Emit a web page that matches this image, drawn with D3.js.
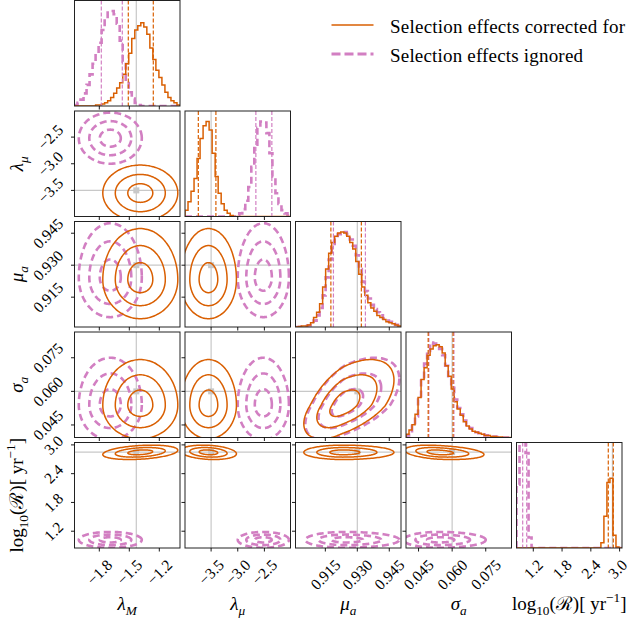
<!DOCTYPE html>
<html>
<head>
<meta charset="utf-8">
<script src="https://cdn.jsdelivr.net/npm/d3@7"></script>
<style>
body { margin: 0; background: #fff; }
text { font-family: "Liberation Serif", "DejaVu Serif", serif; fill: #000; }
</style>
</head>
<body>
<div id="corner"></div>
<script>
// axis labels, as [text, kind] pieces
const paramLabels = [
    [["λ", "i"], ["M", "subi"]],
    [["λ", "i"], ["μ", "subi"]],
    [["μ", "i"], ["a", "subi"]],
    [["σ", "i"], ["a", "subi"]],
    [["log", "r"], ["10", "sub"], ["(ℛ)[ yr", "r"], ["−1", "sup"], ["]", "r"]]
];
const ranges = [[-2.048, -0.993], [-3.99, -2.01], [0.9010, 0.9505], [0.0394, 0.0865], [0.85, 3.05]];
const ticks = [[-1.8, -1.5, -1.2], [-3.5, -3.0, -2.5], [0.915, 0.930, 0.945], [0.045, 0.060, 0.075], [1.2, 1.8, 2.4, 3.0]];
const tickLabels = [
    ["−1.8", "−1.5", "−1.2"],
    ["−3.5", "−3.0", "−2.5"],
    ["0.915", "0.930", "0.945"],
    ["0.045", "0.060", "0.075"],
    ["1.2", "1.8", "2.4", "3.0"]
];
const truths = [-1.43, -3.50, 0.930, 0.060, 2.85];
const seriesNames = ["Selection effects corrected for", "Selection effects ignored"];

// 1d histograms, 35 bins over each range, height as fraction of the panel
const histCorrected = [
    [0, 0, 0, 0, 0, 0, 0, 0.01, 0.01, 0.02, 0.03, 0.05, 0.08, 0.12, 0.17, 0.22, 0.30, 0.40, 0.50, 0.64, 0.72, 0.76, 0.79, 0.75, 0.68, 0.55, 0.44, 0.34, 0.27, 0.20, 0.13, 0.08, 0.05, 0.03, 0.01],
    [0.06, 0.14, 0.24, 0.36, 0.55, 0.74, 0.86, 0.90, 0.82, 0.60, 0.38, 0.22, 0.12, 0.06, 0.03, 0.01, 0, 0, 0, 0, 0, 0, 0, 0, 0, 0, 0, 0, 0, 0, 0, 0, 0, 0, 0],
    [0, 0.005, 0.01, 0.01, 0.02, 0.04, 0.09, 0.14, 0.22, 0.38, 0.55, 0.70, 0.80, 0.86, 0.89, 0.90, 0.89, 0.86, 0.80, 0.74, 0.62, 0.50, 0.38, 0.30, 0.23, 0.18, 0.15, 0.11, 0.09, 0.07, 0.05, 0.04, 0.03, 0.02, 0.01],
    [0.03, 0.07, 0.12, 0.22, 0.38, 0.55, 0.66, 0.78, 0.84, 0.87, 0.88, 0.86, 0.80, 0.68, 0.58, 0.46, 0.34, 0.27, 0.21, 0.15, 0.11, 0.08, 0.06, 0.05, 0.04, 0.03, 0.02, 0.02, 0.01, 0.01, 0.005, 0.005, 0, 0, 0],
    [0, 0, 0, 0, 0, 0, 0, 0, 0, 0, 0, 0, 0, 0, 0, 0, 0, 0, 0, 0, 0, 0, 0, 0, 0, 0, 0, 0, 0.05, 0.30, 0.62, 0.66, 0.12, 0.01, 0]
];
const histIgnored = [
    [0.01, 0.03, 0.06, 0.12, 0.20, 0.30, 0.40, 0.50, 0.60, 0.72, 0.83, 0.90, 0.90, 0.87, 0.78, 0.62, 0.42, 0.25, 0.13, 0.07, 0.03, 0.01, 0, 0, 0, 0, 0, 0, 0, 0, 0, 0, 0, 0, 0],
    [0, 0, 0, 0, 0, 0, 0, 0, 0, 0, 0, 0, 0, 0, 0, 0, 0, 0.01, 0.03, 0.07, 0.15, 0.28, 0.47, 0.68, 0.84, 0.90, 0.89, 0.79, 0.60, 0.38, 0.22, 0.12, 0.06, 0.03, 0.01],
    [0, 0, 0.005, 0.01, 0.015, 0.03, 0.06, 0.11, 0.18, 0.30, 0.47, 0.64, 0.76, 0.84, 0.88, 0.90, 0.90, 0.88, 0.83, 0.77, 0.68, 0.55, 0.43, 0.34, 0.27, 0.21, 0.17, 0.14, 0.11, 0.08, 0.06, 0.05, 0.03, 0.02, 0.01],
    [0.02, 0.06, 0.11, 0.20, 0.36, 0.54, 0.70, 0.82, 0.90, 0.89, 0.86, 0.84, 0.78, 0.68, 0.58, 0.47, 0.36, 0.28, 0.22, 0.16, 0.12, 0.09, 0.07, 0.05, 0.04, 0.03, 0.02, 0.02, 0.01, 0.01, 0.005, 0.005, 0, 0, 0],
    [0.6, 1.2, 1.2, 0.9, 0.1, 0, 0, 0, 0, 0, 0, 0, 0, 0, 0, 0, 0, 0, 0, 0, 0, 0, 0, 0, 0, 0, 0, 0, 0, 0, 0, 0, 0, 0, 0]
];

// 16th / 84th percentiles (dashed lines on the diagonal)
const q16Corrected = [-1.51, -3.74, 0.9176, 0.0493, 2.764];
const q84Corrected = [-1.26, -3.41, 0.9319, 0.0604, 2.869];
const q16Ignored = [-1.78, -2.66, 0.9188, 0.0496, 0.979];
const q84Ignored = [-1.57, -2.36, 0.9338, 0.0608, 1.063];

// 2d contours: centre, lower/upper spread, correlations [i, j, rho]
const centerCorrected = [-1.39, -3.55, 0.9232, 0.0538, 2.845];
const sdLoCorrected = [0.125, 0.175, 0.0061, 0.0050, 0.05];
const sdHiCorrected = [0.125, 0.175, 0.0080, 0.0068, 0.05];
const corrCorrected = [[0, 4, 0.3], [1, 4, -0.2], [2, 3, 0.55], [3, 4, -0.3]];
const centerIgnored = [-1.69, -2.52, 0.9242, 0.0540, 1.02];
const sdLoIgnored = [0.105, 0.16, 0.0062, 0.0052, 0.055];
const sdHiIgnored = [0.105, 0.16, 0.0085, 0.0070, 0.055];
const corrIgnored = [[2, 3, 0.55]];
const sigmaLevels = [1, 2, 3];

const orange = "#d95f02", pink = "#d27fc2", grey = "#c8c8c8";
const W = 630, H = 625;
const left0 = 74.5, top0 = 0.5, size = 105.5, gap = 5;
const n = paramLabels.length;

const series = [
    { color: pink, width: 2.6, dash: "7,4", hist: histIgnored, q16: q16Ignored, q84: q84Ignored,
      center: centerIgnored, sdLo: sdLoIgnored, sdHi: sdHiIgnored, corr: corrIgnored },
    { color: orange, width: 1.5, dash: null, hist: histCorrected, q16: q16Corrected, q84: q84Corrected,
      center: centerCorrected, sdLo: sdLoCorrected, sdHi: sdHiCorrected, corr: corrCorrected }
];

const svg = d3.select('#corner').append('svg').attr('width', W).attr('height', H);
const defs = svg.append('defs');
defs.append('clipPath').attr('id', 'panelclip')
    .append('rect').attr('width', size).attr('height', size);

const xs = ranges.map(r => d3.scaleLinear().domain(r).range([0, size]));
const ys = ranges.map(r => d3.scaleLinear().domain(r).range([size, 0]));
const hy = d3.scaleLinear().domain([0, 1]).range([size, 0]);

const mathLabel = (sel, parts, fs) => {
    let shift = 0;
    parts.forEach(([t, kind]) => {
        let target = 0, size2 = fs;
        if (kind.startsWith('sub')) { target = 0.28 * fs; size2 = fs * 0.7; }
        if (kind === 'sup') { target = -0.42 * fs; size2 = fs * 0.7; }
        const ts = sel.append('tspan').text(t).attr('font-size', size2).attr('dy', target - shift);
        if (kind === 'i' || kind === 'subi') ts.attr('font-style', 'italic');
        shift = target;
    });
};

const rho = (list, i, j) => {
    const hit = list.find(c => (c[0] === i && c[1] === j) || (c[0] === j && c[1] === i));
    return hit ? hit[2] : 0;
};

const contourPath = (s, xi, yi, r) => {
    const p = rho(s.corr, xi, yi);
    const pts = d3.range(0, 160).map(k => {
        const t = k / 160 * 2 * Math.PI;
        const u = r * Math.cos(t);
        const v = r * (p * Math.cos(t) + Math.sqrt(1 - p * p) * Math.sin(t));
        return [s.center[xi] + u * (u > 0 ? s.sdHi[xi] : s.sdLo[xi]),
                s.center[yi] + v * (v > 0 ? s.sdHi[yi] : s.sdLo[yi])];
    });
    return d3.line().x(d => xs[xi](d[0])).y(d => ys[yi](d[1])).curve(d3.curveCardinalClosed)(pts);
};

const histPath = (heights, k) => {
    const nb = heights.length;
    const edges = d3.range(nb + 1).map(b => ranges[k][0] + b * (ranges[k][1] - ranges[k][0]) / nb);
    const pts = [[edges[0], 0]];
    heights.forEach((h, b) => { pts.push([edges[b], h]); pts.push([edges[b + 1], h]); });
    pts.push([edges[nb], 0]);
    return d3.line().x(d => xs[k](d[0])).y(d => hy(d[1]))(pts);
};

const tickFont = 15.5;
const rotLabel = (g, gx, txt, place) => {
    const t = g.append('text').text(txt).attr('font-size', tickFont)
        .attr('text-anchor', 'middle').attr('dominant-baseline', 'central');
    const w = t.node().getComputedTextLength();
    const d = (w + tickFont * 0.95) / (2 * Math.SQRT2);
    let [cx, cy] = place(d);
    // keep the last label inside the picture
    cx = Math.min(cx, W - gx - d - 0.5);
    t.attr('transform', `translate(${cx},${cy}) rotate(-45)`);
};

for (let i = 0; i < n; i++) {
    for (let j = 0; j <= i; j++) {
        const gx = left0 + j * (size + gap);
        const g = svg.append('g')
            .attr('transform', `translate(${gx},${top0 + i * (size + gap)})`);
        const inner = g.append('g').attr('clip-path', 'url(#panelclip)');

        if (i === j) {
            inner.append('line').attr('x1', xs[j](truths[j])).attr('x2', xs[j](truths[j]))
                .attr('y1', 0).attr('y2', size).attr('stroke', grey).attr('stroke-width', 1.2);
            series.forEach(s => {
                inner.append('path').attr('d', histPath(s.hist[j], j))
                    .attr('fill', 'none').attr('stroke', s.color).attr('stroke-width', s.width)
                    .attr('stroke-dasharray', s.dash);
            });
            series.forEach(s => {
                [s.q16[j], s.q84[j]].forEach(q => {
                    inner.append('line').attr('x1', xs[j](q)).attr('x2', xs[j](q))
                        .attr('y1', 0).attr('y2', size).attr('stroke', s.color)
                        .attr('stroke-width', 1.2).attr('stroke-dasharray', '4,2');
                });
            });
        } else {
            inner.append('line').attr('x1', xs[j](truths[j])).attr('x2', xs[j](truths[j]))
                .attr('y1', 0).attr('y2', size).attr('stroke', grey).attr('stroke-width', 1.2);
            inner.append('line').attr('x1', 0).attr('x2', size)
                .attr('y1', ys[i](truths[i])).attr('y2', ys[i](truths[i]))
                .attr('stroke', grey).attr('stroke-width', 1.2);
            inner.append('rect').attr('x', xs[j](truths[j]) - 3).attr('y', ys[i](truths[i]) - 3)
                .attr('width', 6).attr('height', 6).attr('fill', grey);
            series.forEach(s => {
                sigmaLevels.forEach(r => {
                    inner.append('path').attr('d', contourPath(s, j, i, r))
                        .attr('fill', 'none').attr('stroke', s.color).attr('stroke-width', s.width)
                        .attr('stroke-dasharray', s.dash);
                });
            });
        }

        g.append('rect').attr('width', size).attr('height', size)
            .attr('fill', 'none').attr('stroke', '#222').attr('stroke-width', 1);

        // ticks
        ticks[j].forEach((tv, k) => {
            const x = xs[j](tv);
            g.append('line').attr('x1', x).attr('x2', x).attr('y1', size).attr('y2', size + 3.5)
                .attr('stroke', '#000').attr('stroke-width', 0.9);
            if (i === n - 1) rotLabel(g, gx, tickLabels[j][k], d => [x, size + 9 + d]);
        });
        if (j < i) {
            ticks[i].forEach((tv, k) => {
                const y = ys[i](tv);
                g.append('line').attr('x1', -3.5).attr('x2', 0).attr('y1', y).attr('y2', y)
                    .attr('stroke', '#000').attr('stroke-width', 0.9);
                if (j === 0) rotLabel(g, gx, tickLabels[i][k], d => [-9 - d, y]);
            });
        }
    }
}

// axis labels
paramLabels.forEach((parts, k) => {
    const cx = left0 + k * (size + gap) + size / 2;
    const t = svg.append('text').attr('x', cx).attr('y', 610)
        .attr('text-anchor', 'middle').attr('font-size', 19);
    mathLabel(t, parts, 19);
    if (k > 0) {
        const cy = top0 + k * (size + gap) + size / 2;
        const ty = svg.append('text').attr('x', 0).attr('y', 0)
            .attr('transform', `translate(22.5,${cy}) rotate(-90)`)
            .attr('text-anchor', 'middle').attr('font-size', 19);
        mathLabel(ty, parts, 19);
    }
});

// legend
const legendWidths = [235, 193];
const legend = svg.append('g');
[series[1], series[0]].forEach((s, k) => {
    const y = 25 + k * 29;
    legend.append('line').attr('x1', 331.5).attr('x2', 373.5).attr('y1', y).attr('y2', y)
        .attr('stroke', s.color).attr('stroke-width', s.dash ? 3 : 1.5)
        .attr('stroke-dasharray', s.dash ? "9,4" : null);
    legend.append('text').attr('x', 390).attr('y', y + 8).attr('font-size', 19)
        .attr('textLength', legendWidths[k]).attr('lengthAdjust', 'spacing')
        .text(seriesNames[k]);
});
</script>
</body>
</html>
